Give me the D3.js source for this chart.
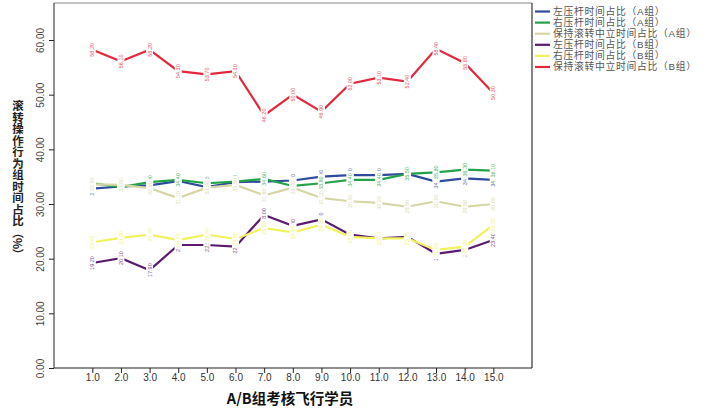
<!DOCTYPE html>
<html><head><meta charset="utf-8">
<script src="https://cdn.jsdelivr.net/npm/d3@7"></script>
<style>
html,body{margin:0;padding:0;background:#fff;}
svg{display:block;font-family:Arial,"Liberation Sans",sans-serif;}
</style></head>
<body>
<svg id="c" width="708" height="419"></svg>
<script>
const categories = [1,2,3,4,5,6,7,8,9,10,11,12,13,14,15];
const xTickLabels = ["1.0","2.0","3.0","4.0","5.0","6.0","7.0","8.0","9.0","10.0","11.0","12.0","13.0","14.0","15.0"];
const yTicks = [0,10,20,30,40,50,60];
const yTickLabels = ["0.00","10.00","20.00","30.00","40.00","50.00","60.00"];

const seriesNames = ["左压杆时间占比（A组）","右压杆时间占比（A组）","保持滚转中立时间占比（A组）","左压杆时间占比（B组）","右压杆时间占比（B组）","保持滚转中立时间占比（B组）"];
const seriesColors = ["#2f4b9c","#23a24a","#d6d6a4","#5b1a6e","#f2f25e","#e3283c"];

const leftA   = [32.8,33.2,33.4,34.2,33.1,34.0,34.1,34.3,35.0,35.3,35.3,35.5,34.1,34.7,34.4];
const rightA  = [33.8,33.1,34.0,34.4,33.8,34.1,34.6,33.3,33.8,34.4,34.4,35.5,35.8,36.3,36.1];
const neutralA= [33.6,33.5,32.9,31.1,33.0,33.5,31.6,33.0,31.1,30.5,30.2,29.5,30.5,29.5,30.0];
const leftB   = [19.2,20.1,17.9,22.5,22.5,22.2,28.0,26.0,27.2,24.4,23.7,24.0,20.9,21.6,23.4];
const rightB  = [23.0,23.8,24.4,23.4,24.4,23.6,25.6,24.8,26.2,24.0,23.7,23.7,21.6,22.2,26.2];
const neutralB= [58.2,56.1,58.2,54.3,53.7,54.3,46.2,50.0,46.9,52.0,53.1,52.4,58.4,55.8,50.3];

const allSeries = [leftA,rightA,neutralA,leftB,rightB,neutralB];

const svg = d3.select("#c");
const L=54, R=532, T=3, B=368;
const x = d3.scaleLinear().domain([1,15]).range([92.3,493.3]);
const y = d3.scaleLinear().domain([0,60]).range([B,40]);

// frame
svg.append("line").attr("x1",L).attr("x2",R).attr("y1",T).attr("y2",T).attr("stroke","#888").attr("stroke-width",1.2);
svg.append("line").attr("x1",R).attr("x2",R).attr("y1",T).attr("y2",B).attr("stroke","#333").attr("stroke-width",1.2);

// x axis
const xAxis = d3.axisBottom(x).tickValues(categories).tickSize(5).tickSizeOuter(0).tickFormat((d,i)=>xTickLabels[i]);
const gx = svg.append("g").attr("transform",`translate(0,${B})`).call(xAxis);
gx.select(".domain").remove();
svg.append("line").attr("x1",L).attr("x2",R).attr("y1",B).attr("y2",B).attr("stroke","#222").attr("stroke-width",1.2);
gx.selectAll(".tick line").attr("stroke","#222");
gx.selectAll(".tick text").attr("fill","#333").attr("font-size",10).attr("dy","0.55em").attr("y",7);

// y axis
const yAxis = d3.axisLeft(y).tickValues(yTicks).tickSize(5).tickSizeOuter(0).tickFormat((d,i)=>yTickLabels[i]);
const gy = svg.append("g").attr("transform",`translate(${L},0)`).call(yAxis);
gy.select(".domain").attr("stroke","#222").attr("d",`M0,${T}V${B}`);
gy.selectAll(".tick line").attr("stroke","#222");
gy.selectAll(".tick text").attr("fill","#444").attr("font-size",10)
  .attr("x",null).attr("dy",null).attr("text-anchor","middle")
  .attr("transform","translate(-14,0) rotate(-90)").attr("dy","0.35em");

// lines
const line = d3.line().x((d,i)=>x(categories[i])).y(d=>y(d));
allSeries.forEach((s,k)=>{
  svg.append("path").datum(s).attr("d",line).attr("fill","none")
    .attr("stroke",seriesColors[k]).attr("stroke-width",2.2);
});
// data labels
allSeries.forEach((s,k)=>{
  const g = svg.append("g");
  s.forEach((v,i)=>{
    const px = x(categories[i]), py = y(v);
    const lg = g.append("g").attr("transform",`translate(${px},${py}) rotate(-90)`);
    lg.append("rect").attr("x",-9).attr("y",-3.5).attr("width",18).attr("height",7).attr("fill","#fff");
    lg.append("text").attr("text-anchor","middle").attr("dy","0.35em").attr("font-size",5.5)
      .attr("fill",seriesColors[k]).attr("opacity",0.8).text(v.toFixed(2));
  });
});

// y title (vertical writing)
svg.append("text").attr("x",18).attr("y",100)
  .attr("style","writing-mode:vertical-rl;text-orientation:mixed;")
  .attr("font-family","'Noto Sans CJK SC',sans-serif").attr("font-weight","bold").attr("font-size",11.5).attr("fill","#222")
  .text("滚转操作行为组时间占比（%）");

// x title
svg.append("text").attr("x",290).attr("y",399).attr("text-anchor","middle").attr("dy","0.35em")
  .attr("font-family","'Noto Sans CJK SC',sans-serif").attr("font-weight","bold").attr("font-size",14.5).attr("fill","#111")
  .text("A/B组考核飞行学员");

// legend
const lg = svg.append("g");
seriesNames.forEach((n,i)=>{
  const ly = 11.5 + i*11.1;
  lg.append("line").attr("x1",535).attr("x2",550).attr("y1",ly).attr("y2",ly).attr("stroke",seriesColors[i]).attr("stroke-width",2.2);
  lg.append("text").attr("x",553).attr("y",ly).attr("dy","0.35em").attr("font-size",9.8).attr("letter-spacing",0.7)
    .attr("font-family","'Liberation Sans','Noto Sans CJK SC',sans-serif").attr("fill","#555").text(n);
});
</script>
</body></html>
